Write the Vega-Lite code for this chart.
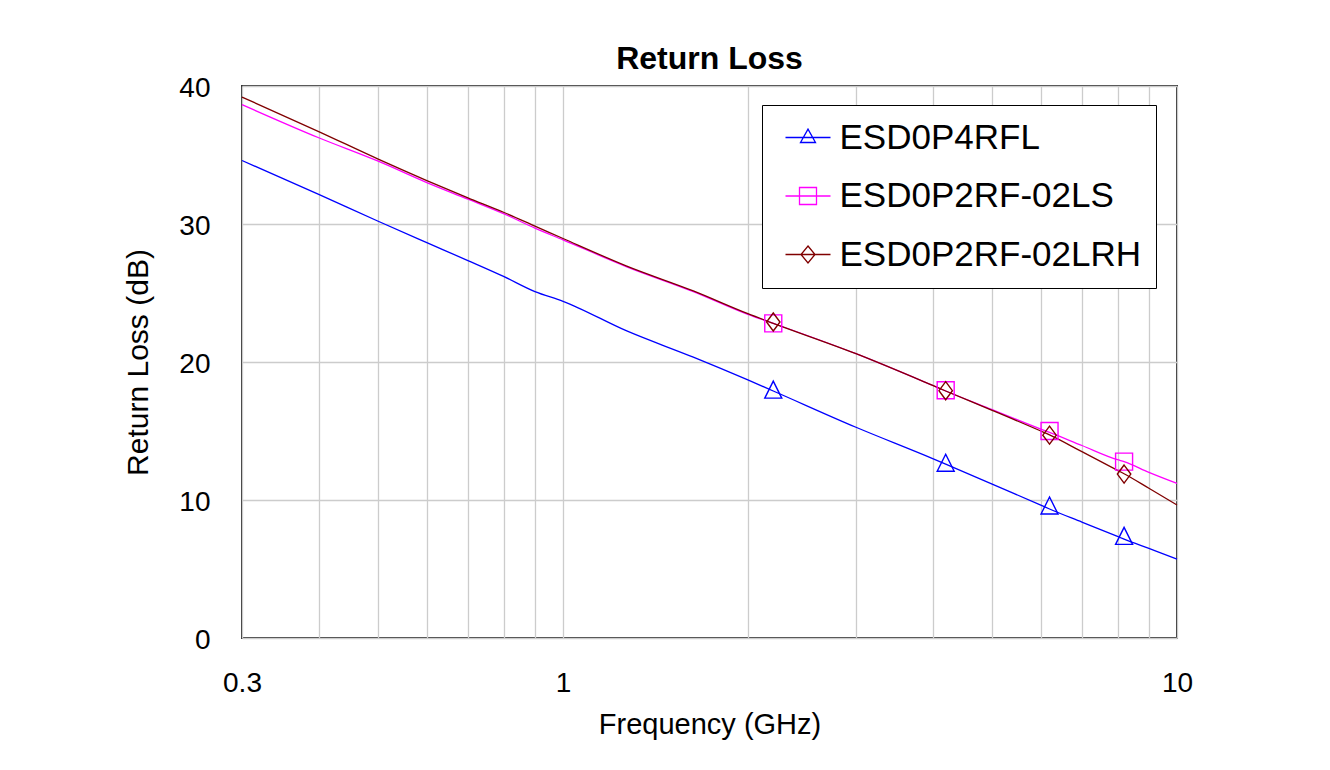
{
  "$schema": "https://vega.github.io/schema/vega-lite/v6.json",
  "width": 935,
  "height": 552,
  "autosize": {"type": "none"},
  "padding": {"left": 242, "top": 86, "right": 153, "bottom": 132},
  "background": "white",
  "title": {"text": "Return Loss", "fontSize": 32, "fontWeight": "bold", "font": "Liberation Sans", "color": "black", "anchor": "middle", "baseline": "alphabetic", "offset": 16, "dy": 43},
  "config": {
    "font": "Liberation Sans",
    "view": {"stroke": "#333333", "strokeWidth": 2}
  },
  "datasets": {
    "curves": [
      {"series": "ESD0P4RFL", "f": 0.3, "rl": 34.6},
      {"series": "ESD0P4RFL", "f": 0.4, "rl": 32.15},
      {"series": "ESD0P4RFL", "f": 0.5, "rl": 30.2},
      {"series": "ESD0P4RFL", "f": 0.6, "rl": 28.65},
      {"series": "ESD0P4RFL", "f": 0.7, "rl": 27.35},
      {"series": "ESD0P4RFL", "f": 0.8, "rl": 26.2},
      {"series": "ESD0P4RFL", "f": 0.9, "rl": 25.1},
      {"series": "ESD0P4RFL", "f": 1.0, "rl": 24.4},
      {"series": "ESD0P4RFL", "f": 1.27, "rl": 22.25},
      {"series": "ESD0P4RFL", "f": 1.63, "rl": 20.35},
      {"series": "ESD0P4RFL", "f": 2.0, "rl": 18.7},
      {"series": "ESD0P4RFL", "f": 2.2, "rl": 17.9},
      {"series": "ESD0P4RFL", "f": 3.0, "rl": 15.27},
      {"series": "ESD0P4RFL", "f": 4.0, "rl": 13.0},
      {"series": "ESD0P4RFL", "f": 4.2, "rl": 12.6},
      {"series": "ESD0P4RFL", "f": 5.0, "rl": 11.15},
      {"series": "ESD0P4RFL", "f": 6.0, "rl": 9.63},
      {"series": "ESD0P4RFL", "f": 6.2, "rl": 9.35},
      {"series": "ESD0P4RFL", "f": 7.0, "rl": 8.4},
      {"series": "ESD0P4RFL", "f": 8.0, "rl": 7.36},
      {"series": "ESD0P4RFL", "f": 8.2, "rl": 7.17},
      {"series": "ESD0P4RFL", "f": 9.0, "rl": 6.49},
      {"series": "ESD0P4RFL", "f": 10.0, "rl": 5.72},
      {"series": "ESD0P2RF-02LS", "f": 0.3, "rl": 38.65},
      {"series": "ESD0P2RF-02LS", "f": 0.4, "rl": 36.25},
      {"series": "ESD0P2RF-02LS", "f": 0.5, "rl": 34.55},
      {"series": "ESD0P2RF-02LS", "f": 0.6, "rl": 33.0},
      {"series": "ESD0P2RF-02LS", "f": 0.7, "rl": 31.8},
      {"series": "ESD0P2RF-02LS", "f": 0.8, "rl": 30.75},
      {"series": "ESD0P2RF-02LS", "f": 0.9, "rl": 29.7},
      {"series": "ESD0P2RF-02LS", "f": 1.0, "rl": 28.85},
      {"series": "ESD0P2RF-02LS", "f": 1.27, "rl": 26.9},
      {"series": "ESD0P2RF-02LS", "f": 1.63, "rl": 25.1},
      {"series": "ESD0P2RF-02LS", "f": 2.0, "rl": 23.45},
      {"series": "ESD0P2RF-02LS", "f": 2.2, "rl": 22.8},
      {"series": "ESD0P2RF-02LS", "f": 3.0, "rl": 20.6},
      {"series": "ESD0P2RF-02LS", "f": 4.0, "rl": 18.3},
      {"series": "ESD0P2RF-02LS", "f": 4.2, "rl": 17.9},
      {"series": "ESD0P2RF-02LS", "f": 5.0, "rl": 16.55},
      {"series": "ESD0P2RF-02LS", "f": 6.0, "rl": 15.14},
      {"series": "ESD0P2RF-02LS", "f": 6.2, "rl": 14.9},
      {"series": "ESD0P2RF-02LS", "f": 7.0, "rl": 13.95},
      {"series": "ESD0P2RF-02LS", "f": 8.0, "rl": 12.92},
      {"series": "ESD0P2RF-02LS", "f": 8.2, "rl": 12.78},
      {"series": "ESD0P2RF-02LS", "f": 9.0, "rl": 12.0},
      {"series": "ESD0P2RF-02LS", "f": 10.0, "rl": 11.2},
      {"series": "ESD0P2RF-02LRH", "f": 0.3, "rl": 39.2},
      {"series": "ESD0P2RF-02LRH", "f": 0.4, "rl": 36.7},
      {"series": "ESD0P2RF-02LRH", "f": 0.5, "rl": 34.7},
      {"series": "ESD0P2RF-02LRH", "f": 0.6, "rl": 33.15},
      {"series": "ESD0P2RF-02LRH", "f": 0.7, "rl": 31.9},
      {"series": "ESD0P2RF-02LRH", "f": 0.8, "rl": 30.85},
      {"series": "ESD0P2RF-02LRH", "f": 0.9, "rl": 29.85},
      {"series": "ESD0P2RF-02LRH", "f": 1.0, "rl": 28.95},
      {"series": "ESD0P2RF-02LRH", "f": 1.27, "rl": 26.95},
      {"series": "ESD0P2RF-02LRH", "f": 1.63, "rl": 25.15},
      {"series": "ESD0P2RF-02LRH", "f": 2.0, "rl": 23.5},
      {"series": "ESD0P2RF-02LRH", "f": 2.2, "rl": 22.8},
      {"series": "ESD0P2RF-02LRH", "f": 3.0, "rl": 20.6},
      {"series": "ESD0P2RF-02LRH", "f": 4.0, "rl": 18.3},
      {"series": "ESD0P2RF-02LRH", "f": 4.2, "rl": 17.9},
      {"series": "ESD0P2RF-02LRH", "f": 5.0, "rl": 16.5},
      {"series": "ESD0P2RF-02LRH", "f": 6.0, "rl": 15.0},
      {"series": "ESD0P2RF-02LRH", "f": 6.2, "rl": 14.72},
      {"series": "ESD0P2RF-02LRH", "f": 7.0, "rl": 13.5},
      {"series": "ESD0P2RF-02LRH", "f": 8.0, "rl": 12.15},
      {"series": "ESD0P2RF-02LRH", "f": 8.2, "rl": 11.9},
      {"series": "ESD0P2RF-02LRH", "f": 9.0, "rl": 10.85},
      {"series": "ESD0P2RF-02LRH", "f": 10.0, "rl": 9.64}
    ],
    "markers": [
      {"series": "ESD0P4RFL", "f": 2.2, "rl": 18.0},
      {"series": "ESD0P4RFL", "f": 4.2, "rl": 12.7},
      {"series": "ESD0P4RFL", "f": 6.2, "rl": 9.6},
      {"series": "ESD0P4RFL", "f": 8.2, "rl": 7.4},
      {"series": "ESD0P2RF-02LS", "f": 2.2, "rl": 22.8},
      {"series": "ESD0P2RF-02LS", "f": 4.2, "rl": 17.95},
      {"series": "ESD0P2RF-02LS", "f": 6.2, "rl": 15.0},
      {"series": "ESD0P2RF-02LS", "f": 8.2, "rl": 12.78},
      {"series": "ESD0P2RF-02LRH", "f": 2.2, "rl": 22.9},
      {"series": "ESD0P2RF-02LRH", "f": 4.2, "rl": 17.92},
      {"series": "ESD0P2RF-02LRH", "f": 6.2, "rl": 14.7},
      {"series": "ESD0P2RF-02LRH", "f": 8.2, "rl": 11.88}
    ]
  },
  "encoding": {
    "x": {
      "field": "f", "type": "quantitative",
      "scale": {"type": "log", "domain": [0.3, 10], "nice": false},
      "axis": {
        "title": "Frequency (GHz)",
        "values": [0.3, 0.4, 0.5, 0.6, 0.7, 0.8, 0.9, 1, 2, 3, 4, 5, 6, 7, 8, 9, 10],
        "labelExpr": "(datum.value == 0.3 || datum.value == 1 || datum.value == 10) ? format(datum.value, '~g') : ''",
        "grid": true, "gridColor": "#cccccc", "gridWidth": 1.3,
        "ticks": false, "domain": false,
        "labelFontSize": 28, "labelPadding": 31, "labelFlush": false, "labelOverlap": false, "labelColor": "black",
        "titleFontSize": 29, "titleFontWeight": "normal", "titleColor": "black", "titlePadding": 13
      }
    },
    "y": {
      "field": "rl", "type": "quantitative",
      "scale": {"domain": [0, 40], "nice": false},
      "axis": {
        "title": "Return Loss (dB)",
        "values": [0, 10, 20, 30, 40],
        "grid": true, "gridColor": "#cccccc", "gridWidth": 1.3,
        "ticks": false, "domain": false,
        "labelFontSize": 28, "labelPadding": 32, "labelColor": "black", "labelOffset": 2,
        "titleFontSize": 30, "titleFontWeight": "normal", "titleColor": "black", "titlePadding": 25
      }
    }
  },
  "layer": [
    {
      "data": {"name": "curves"},
      "mark": {"type": "line", "strokeWidth": 1.3, "interpolate": "monotone"},
      "encoding": {
        "color": {
          "field": "series", "type": "nominal",
          "scale": {"domain": ["ESD0P4RFL", "ESD0P2RF-02LS", "ESD0P2RF-02LRH"], "range": ["#0000ff", "#ff00ff", "#800000"]},
          "legend": {
            "title": null, "orient": "none", "legendX": 520, "legendY": 19,
            "fillColor": "white", "strokeColor": "black", "cornerRadius": 0,
            "padding": 15, "rowPadding": 22.5,
            "labelFontSize": 35, "labelColor": "black", "labelLimit": 500, "labelOffset": 27.5,
            "symbolSize": 625, "symbolStrokeWidth": 1.3, "symbolOpacity": 1
          }
        }
      }
    },
    {
      "data": {"name": "markers"},
      "transform": [{"filter": "datum.series == 'ESD0P4RFL'"}],
      "mark": {"type": "point", "filled": false, "size": 289, "strokeWidth": 1.4, "opacity": 1, "color": "#0000ff", "shape": "M0,-1L1,1L-1,1Z"}
    },
    {
      "data": {"name": "markers"},
      "transform": [{"filter": "datum.series == 'ESD0P2RF-02LS'"}],
      "mark": {"type": "point", "filled": false, "size": 289, "strokeWidth": 1.4, "opacity": 1, "color": "#ff00ff", "shape": "M-1,-1L1,-1L1,1L-1,1Z"}
    },
    {
      "data": {"name": "markers"},
      "transform": [{"filter": "datum.series == 'ESD0P2RF-02LRH'"}],
      "mark": {"type": "point", "filled": false, "size": 289, "strokeWidth": 1.4, "opacity": 1, "color": "#800000", "shape": "M0,-1.06L0.79,0L0,1.06L-0.79,0Z"}
    },
    {
      "data": {"name": "markers"},
      "mark": {"type": "point", "filled": false, "opacity": 0},
      "encoding": {
        "color": {"field": "series", "type": "nominal"},
        "shape": {
          "field": "series", "type": "nominal",
          "scale": {"domain": ["ESD0P4RFL", "ESD0P2RF-02LS", "ESD0P2RF-02LRH"], "range": ["M-0.72,0L2.88,0M1.08,-0.67L1.68,0.4L0.48,0.4Z", "M-0.72,0L2.88,0M0.4,-0.68L1.76,-0.68L1.76,0.68L0.4,0.68Z", "M-0.72,0L2.88,0M1.08,-0.68L1.64,0L1.08,0.68L0.52,0Z"]}
        }
      }
    }
  ]
}
